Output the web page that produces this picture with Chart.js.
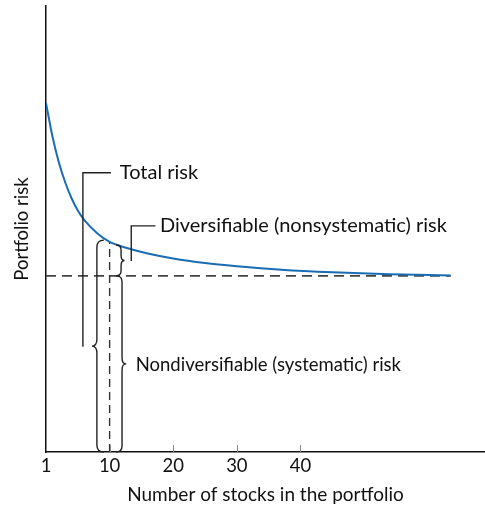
<!DOCTYPE html>
<html>
<head>
<meta charset="utf-8">
<script src="https://cdn.jsdelivr.net/npm/chart.js@4.4.1/dist/chart.umd.min.js"></script>
<style>
  html, body { margin: 0; padding: 0; background: #fff; }
  #wrap { width: 485px; height: 511px; position: relative; }
</style>
</head>
<body>
<div id="wrap"><canvas id="c" width="485" height="511"></canvas></div>
<script>
// ---- data ----
const nStocks   = [0, 1, 2, 3, 4, 5, 6, 8, 10, 13, 16, 20, 25, 30, 37, 45, 54, 63.6];
const totalRisk = [78.25, 70.85, 65.02, 60.54, 56.95, 54.15, 52.02, 49.10, 47.09, 45.63, 44.51, 43.39, 42.38, 41.66, 40.87, 40.29, 39.87, 39.57];
const systematicX = [0, 63.6];
const systematicRisk = [39.5, 39.5];
const markerX = [10, 10];
const markerY = [0, 47.2];
const tickValues = [0, 10, 20, 30, 40];
const tickLabels = ["1", "10", "20", "30", "40"];
const labelTotal = "Total risk";
const labelDiv = "Diversifiable (nonsystematic) risk";
const labelNonDiv = "Nondiversifiable (systematic) risk";
const xTitle = "Number of stocks in the portfolio";
const yTitle = "Portfolio risk";

const FONT = "Lato, 'Open Sans', sans-serif";
const FS = 18.5;
const INK = "#111";

function brace(ctx, x, y1, y2, dir, r) {
  // dir = +1: tip points right, ends curl left; -1: tip left, ends curl right
  const ym = (y1 + y2) / 2;
  ctx.beginPath();
  ctx.moveTo(x - dir * r, y1);
  ctx.quadraticCurveTo(x, y1, x, y1 + r);
  ctx.lineTo(x, ym - r);
  ctx.quadraticCurveTo(x, ym, x + dir * r * 0.7, ym);
  ctx.quadraticCurveTo(x, ym, x, ym + r);
  ctx.lineTo(x, y2 - r);
  ctx.quadraticCurveTo(x, y2, x - dir * r, y2);
  ctx.stroke();
}

const annotations = {
  id: 'annotations',
  afterDatasetsDraw(chart) {
    const ctx = chart.ctx;
    const xs = chart.scales.x, ys = chart.scales.y;
    const X = v => xs.getPixelForValue(v);
    const Y = v => ys.getPixelForValue(v);
    ctx.save();
    // small inner tick marks
    ctx.strokeStyle = '#888';
    ctx.lineWidth = 1;
    tickValues.slice(1).forEach(v => {
      ctx.beginPath();
      ctx.moveTo(Math.round(X(v)) + 0.5, Y(0));
      ctx.lineTo(Math.round(X(v)) + 0.5, Y(0) - 7);
      ctx.stroke();
    });
    ctx.strokeStyle = '#222';
    ctx.lineWidth = 1.4;
    // total risk leader
    ctx.beginPath();
    ctx.moveTo(X(10.2), Y(62.6));
    ctx.lineTo(X(5.8), Y(62.6));
    ctx.lineTo(X(5.8), Y(23.6));
    ctx.stroke();
    // total risk brace (left pointing)
    brace(ctx, X(8.0), Y(47.5), Y(0), -1, 7);
    // nondiversifiable brace (right pointing)
    brace(ctx, X(11.95), Y(39.5), Y(0), 1, 6);
    // diversifiable brace (right pointing)
    brace(ctx, X(11.8), Y(46.4), Y(39.5), 1, 5);
    // diversifiable leader
    ctx.beginPath();
    ctx.moveTo(X(13.4), Y(42.8));
    ctx.lineTo(X(13.4), Y(50.7));
    ctx.lineTo(X(17.2), Y(50.7));
    ctx.stroke();
    // texts
    ctx.fillStyle = INK;
    ctx.textBaseline = 'middle';
    ctx.textAlign = 'left';
    ctx.font = "20px " + FONT;
    ctx.fillText(labelTotal, X(11.6), Y(62.6));
    ctx.fillText(labelDiv, X(17.9), Y(50.7));
    ctx.font = FS + "px " + FONT;
    ctx.fillText(labelNonDiv, X(14.1), Y(19.5));
    ctx.restore();
  }
};

new Chart(document.getElementById('c'), {
  type: 'scatter',
  data: {
    datasets: [
      {
        data: nStocks.map((n, i) => ({x: n, y: totalRisk[i]})),
        showLine: true,
        borderColor: '#1a6db5',
        borderWidth: 2,
        pointRadius: 0,
        cubicInterpolationMode: 'monotone',
        fill: false
      },
      {
        data: systematicX.map((n, i) => ({x: n, y: systematicRisk[i]})),
        showLine: true,
        borderColor: '#444',
        borderWidth: 1.6,
        borderDash: [10, 6],
        pointRadius: 0
      },
      {
        data: markerX.map((n, i) => ({x: n, y: markerY[i]})),
        showLine: true,
        borderColor: '#333',
        borderWidth: 1.4,
        borderDash: [8, 5],
        pointRadius: 0
      }
    ]
  },
  options: {
    responsive: false,
    animation: false,
    events: [],
    layout: { padding: { top: 6, right: 0, left: 0, bottom: 0 } },
    plugins: { legend: { display: false }, tooltip: { enabled: false } },
    scales: {
      x: {
        type: 'linear',
        min: 0,
        max: 69,
        afterBuildTicks: s => { s.ticks = tickValues.map(v => ({value: v})); },
        afterFit: s => { s.height = 59; },
        ticks: {
          color: INK,
          font: { family: FONT, size: FS },
          padding: 3,
          maxRotation: 0,
          autoSkip: false,
          callback: (v, i) => tickLabels[i]
        },
        grid: { display: false, drawTicks: false },
        border: { display: true, color: '#111', width: 1.5 },
        title: {
          display: true,
          text: xTitle,
          color: INK,
          font: { family: FONT, size: 19 },
          padding: { top: 0, bottom: 5 }
        }
      },
      y: {
        type: 'linear',
        min: 0,
        max: 100,
        afterFit: s => { s.width = 46; },
        ticks: { display: false },
        grid: { display: false, drawTicks: false },
        border: { display: true, color: '#111', width: 1.5 },
        title: {
          display: true,
          text: yTitle,
          color: INK,
          font: { family: FONT, size: FS },
          padding: { top: 11, bottom: 0 }
        }
      }
    }
  },
  plugins: [annotations]
});
</script>
</body>
</html>
